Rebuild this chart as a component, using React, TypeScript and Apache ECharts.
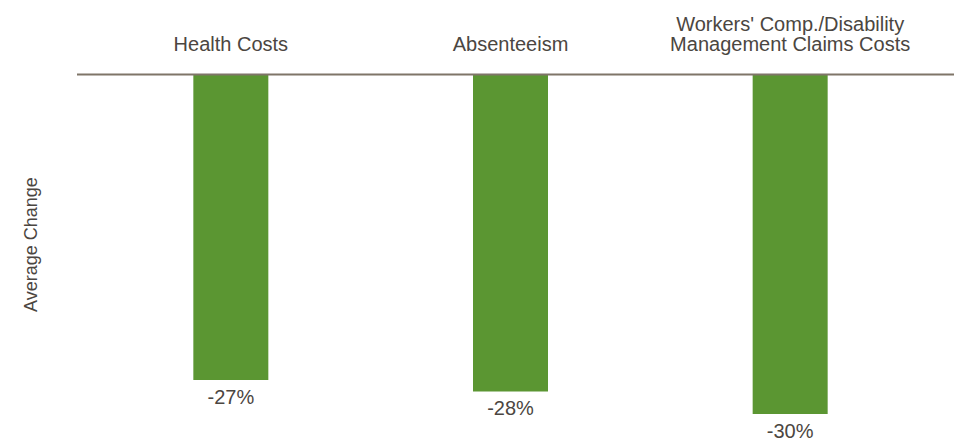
import React, { useEffect, useRef } from "react";
import * as echarts from "echarts";

const categories = [
  "Health Costs",
  "Absenteeism",
  "Workers' Comp./Disability\nManagement Claims Costs",
];
const values = [-27, -28, -30];
const yAxisName = "Average Change";

const textColor = "#4b4641";
const barColor = "#5b9632";
const lineColor = "#7f7568";
const font = "'Liberation Sans', Arial, sans-serif";

export default function App() {
  const ref = useRef<HTMLDivElement>(null);
  useEffect(() => {
    if (!ref.current) return;
    const chart = echarts.init(ref.current, undefined, { renderer: "svg" });
    chart.setOption({
      animation: false,
      backgroundColor: "#ffffff",
      grid: { left: 91, right: 24, top: 75, bottom: 31 },
      xAxis: {
        type: "category",
        position: "top",
        data: categories,
        axisLine: { show: false },
        axisTick: { show: false },
        axisLabel: {
          color: textColor,
          fontFamily: font,
          fontSize: 20,
          lineHeight: 20,
          margin: 21,
          interval: 0,
        },
      },
      yAxis: {
        type: "value",
        min: -30,
        max: 0,
        show: true,
        axisLine: { show: false },
        axisTick: { show: false },
        axisLabel: { show: false },
        splitLine: { show: false },
        name: yAxisName,
        nameLocation: "middle",
        nameRotate: 90,
        nameGap: 51,
        nameTextStyle: { color: textColor, fontFamily: font, fontSize: 18 },
      },
      graphic: [
        {
          type: "line",
          shape: { x1: 77, y1: 74.5, x2: 954, y2: 74.5 },
          style: { stroke: lineColor, lineWidth: 2 },
          z: 10,
        },
      ],
      series: [
        {
          type: "bar",
          data: values,
          barWidth: 75,
          itemStyle: { color: barColor },
          label: {
            show: true,
            position: "bottom",
            distance: 7,
            formatter: (p: any) => `${p.value}%`,
            color: textColor,
            fontFamily: font,
            fontSize: 20,
          },
        },
      ],
    });
    return () => chart.dispose();
  }, []);
  return (
    <div
      ref={ref}
      style={{ position: "fixed", left: 0, top: 0, width: 954, height: 445 }}
    />
  );
}
